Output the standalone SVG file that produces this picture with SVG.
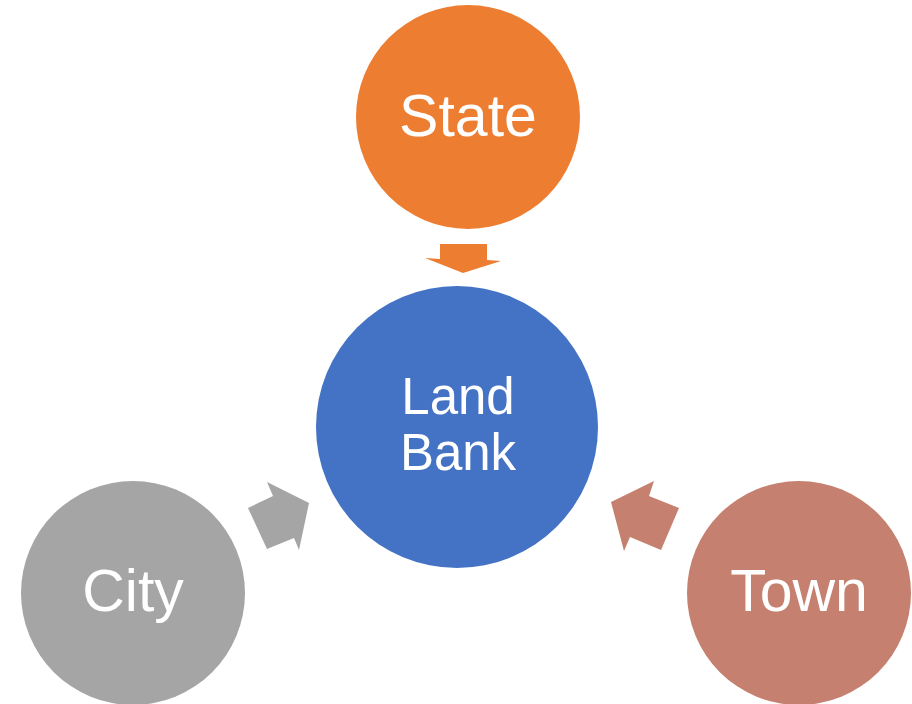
<svg xmlns="http://www.w3.org/2000/svg" width="912" height="704" viewBox="0 0 912 704">
<style>
text{font-family:"Liberation Sans",Arial,sans-serif;fill:#fff;text-anchor:middle}
.t{font-size:59px}
.c{font-size:51px}
</style>
<rect width="912" height="704" fill="#fff"/>
<g id="connectors">
<polygon points="440,244 487,244 487,260 501,261 463,273 425,258 440,259" fill="#ED7D31"/>
<polygon points="267,549 248,508 273,496 267,482 309,503 299,550 294,538" fill="#A5A5A5"/>
<polygon points="654,481 649,496 679,508 661,550 630,537 624,551 611,502" fill="#C5806F"/>
</g>
<g id="state"><circle cx="468" cy="117" r="112" fill="#ED7D31"/><text class="t" x="468" y="136">State</text></g>
<g id="landbank"><circle cx="457" cy="427" r="141" fill="#4472C4"/><text class="c" x="458" y="414">Land</text><text class="c" x="458" y="470">Bank</text></g>
<g id="city"><circle cx="133" cy="593" r="112" fill="#A5A5A5"/><text class="t" x="133" y="611">City</text></g>
<g id="town"><circle cx="799" cy="593" r="112" fill="#C5806F"/><text class="t" x="799" y="611">Town</text></g>
</svg>
